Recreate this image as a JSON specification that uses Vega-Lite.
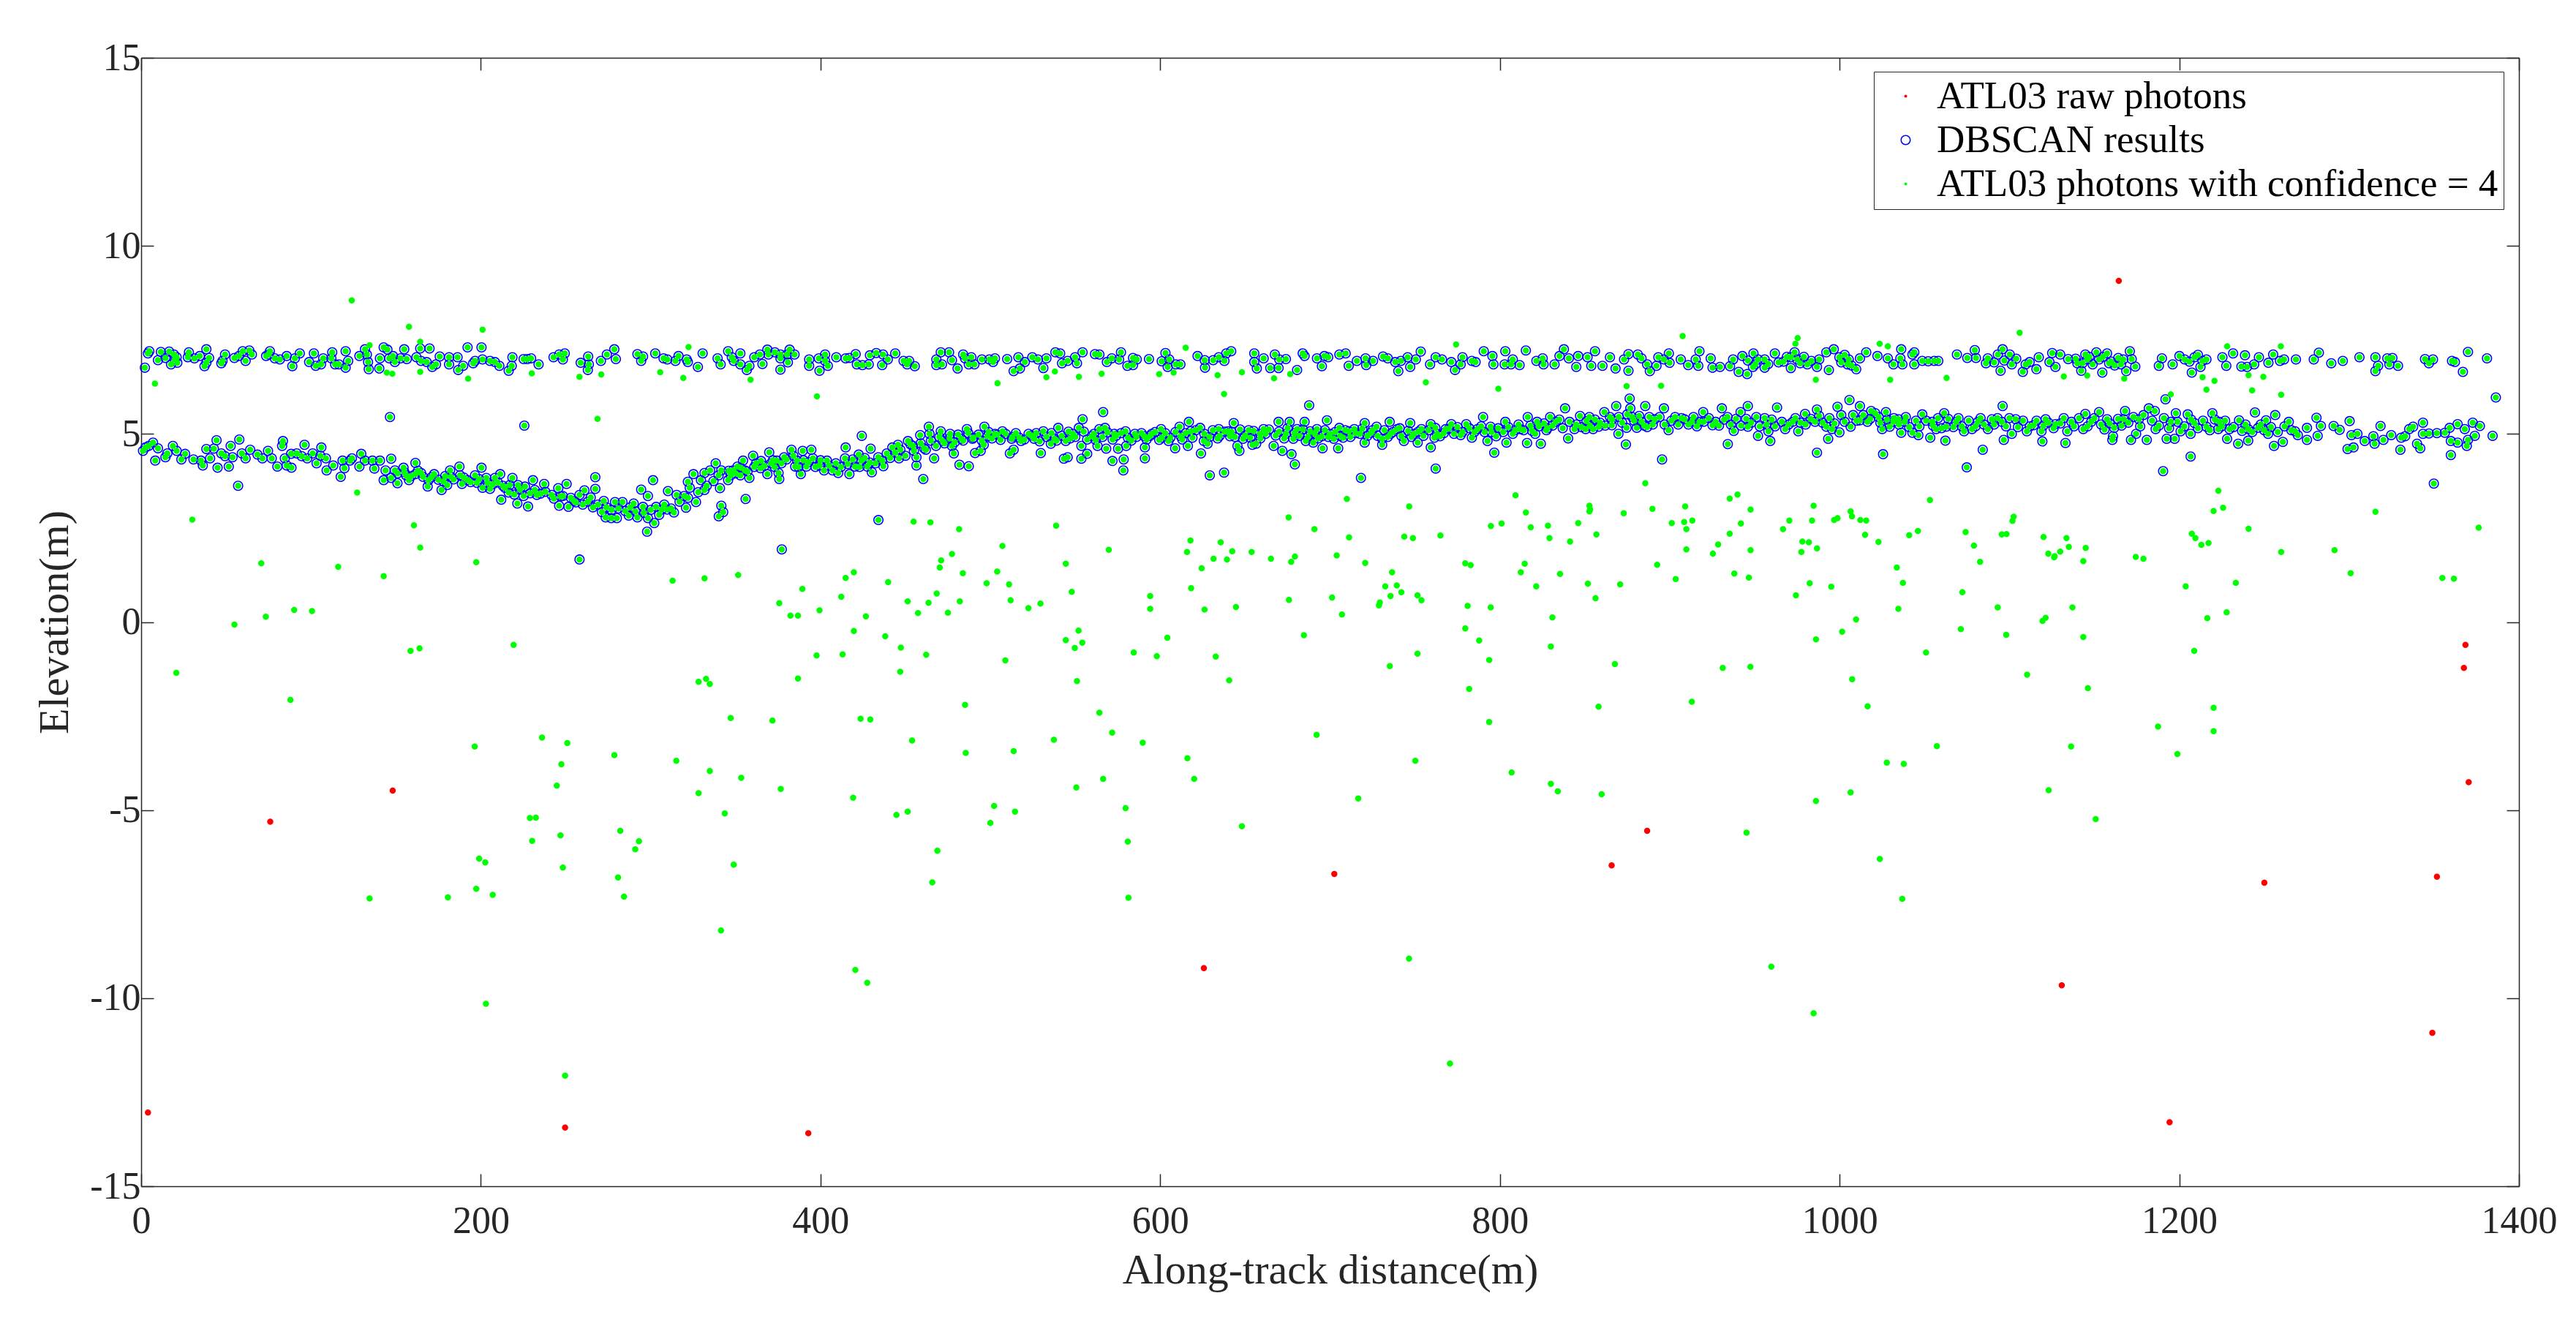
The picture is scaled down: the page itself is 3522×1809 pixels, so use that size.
{"$schema":"https://vega.github.io/schema/vega-lite/v6.json",
"width":3251,"height":1543,"autosize":"none",
"padding":{"left":193,"top":79,"right":78,"bottom":187},
"background":"white",
"config":{"font":"Liberation Serif","view":{"stroke":null},
"axis":{"grid":false,"domainColor":"#262626","domainWidth":1.5,"tickColor":"#262626","tickWidth":1.5,"tickSize":-17,"labelFont":"Liberation Serif","labelFontSize":52,"labelColor":"#262626","labelOverlap":false,"titleFont":"Liberation Serif","titleFontSize":58,"titleColor":"#262626","titleFontWeight":"normal"}},
"datasets":{
"raw":[{"d":4,"e":-13.04},{"d":76,"e":-5.31},{"d":148.1,"e":-4.48},{"d":249.6,"e":-13.44},{"d":392.8,"e":-13.59},{"d":625.7,"e":-9.2},{"d":702.5,"e":-6.7},{"d":865.8,"e":-6.47},{"d":886.7,"e":-5.55},{"d":1130.8,"e":-9.66},{"d":1164.4,"e":9.07},{"d":1194.3,"e":-13.3},{"d":1250.1,"e":-6.93},{"d":1349,"e":-10.92},{"d":1351.7,"e":-6.77},{"d":1367.6,"e":-1.22},{"d":1368.5,"e":-0.61},{"d":1370.4,"e":-4.26}],
"signal":[
{"d":2.2,"e":6.76},{"d":4,"e":7.14},{"d":4.8,"e":7.2},{"d":9.9,"e":6.96},{"d":11.6,"e":7.18},{"d":14.3,"e":7.02},{"d":16.5,"e":7.19},{"d":17.6,"e":6.85},{"d":19.3,"e":7.11},{"d":20.9,"e":7.04},{"d":21.3,"e":6.89},{"d":19.8,"e":6.98},{"d":28.1,"e":7.17},{"d":27.5,"e":7.04},{"d":31.4,"e":7.01},{"d":34.5,"e":7.07},{"d":38.4,"e":7.25},{"d":40,"e":7.02},{"d":38.4,"e":6.89},{"d":37.3,"e":6.8},{"d":47.9,"e":6.94},{"d":49.4,"e":7.11},{"d":47.2,"e":6.88},{"d":54.9,"e":7.02},{"d":57.6,"e":7.07},{"d":59.8,"e":7.2},{"d":61.5,"e":6.94},{"d":63.7,"e":7.22},{"d":65.2,"e":7.11},{"d":73.6,"e":7.07},{"d":75.8,"e":7.2},{"d":75.1,"e":7.11},{"d":78.7,"e":7.01},{"d":81.7,"e":6.98},{"d":85.7,"e":7.07},{"d":89,"e":6.8},{"d":90.5,"e":7.01},{"d":93.4,"e":7.14},{"d":101.7,"e":7.14},{"d":98.9,"e":6.91},{"d":102.8,"e":6.81},{"d":105.9,"e":6.85},{"d":107.2,"e":7.01},{"d":112.5,"e":7.17},{"d":112,"e":7.01},{"d":114.2,"e":6.85},{"d":116.4,"e":6.85},{"d":120.4,"e":7.2},{"d":121.9,"e":6.94},{"d":120.4,"e":6.76},{"d":128.5,"e":7.07},{"d":131.8,"e":7.25},{"d":132.9,"e":7.11},{"d":133.6,"e":6.91},{"d":134,"e":6.72},{"d":140.2,"e":6.74},{"d":140.6,"e":7.01},{"d":142.8,"e":7.3},{"d":146.1,"e":7.01},{"d":145,"e":7.24},{"d":148.3,"e":7.07},{"d":149.4,"e":6.91},{"d":152.7,"e":7.01},{"d":154.9,"e":7.25},{"d":156.4,"e":6.99},{"d":162.1,"e":7.04},{"d":164.3,"e":7.27},{"d":164.8,"e":6.94},{"d":168.1,"e":6.91},{"d":169.8,"e":7.27},{"d":171.4,"e":6.78},{"d":173.6,"e":6.85},{"d":175.8,"e":7.06},{"d":181.3,"e":7.04},{"d":181.3,"e":6.85},{"d":186.3,"e":7.04},{"d":186.7,"e":6.7},{"d":189.6,"e":6.81},{"d":192.2,"e":7.3},{"d":195.5,"e":6.88},{"d":196.6,"e":6.94},{"d":200.4,"e":7.3},{"d":201,"e":6.98},{"d":205.4,"e":6.94},{"d":208.3,"e":6.91},{"d":210.9,"e":6.81},{"d":216.4,"e":6.68},{"d":218.2,"e":6.81},{"d":218.6,"e":7.04},{"d":225.2,"e":6.99},{"d":227.4,"e":6.99},{"d":229.6,"e":7.01},{"d":234,"e":6.85},{"d":242.8,"e":7.04},{"d":246.1,"e":7.11},{"d":248.3,"e":6.98},{"d":249.4,"e":7.14},{"d":258.8,"e":6.89},{"d":263.2,"e":7.06},{"d":263.6,"e":6.85},{"d":263,"e":6.7},{"d":270.7,"e":6.94},{"d":274.2,"e":7.11},{"d":278.6,"e":7.25},{"d":279.5,"e":6.99},{"d":292.2,"e":7.12},{"d":295.5,"e":7.06},{"d":294.4,"e":6.94},{"d":302.7,"e":7.14},{"d":307.6,"e":7.01},{"d":309.8,"e":6.98},{"d":314.6,"e":6.94},{"d":316.4,"e":7.07},{"d":321.2,"e":6.98},{"d":321.9,"e":6.91},{"d":327.8,"e":6.78},{"d":330.6,"e":7.14},{"d":339.4,"e":7.01},{"d":341.2,"e":6.85},
{"d":345.6,"e":7.2},{"d":347.8,"e":7.04},{"d":348.9,"e":6.94},{"d":352.8,"e":7.14},{"d":352.8,"e":6.85},{"d":356.6,"e":6.7},{"d":358.1,"e":6.81},{"d":361,"e":7.04},{"d":364.3,"e":7.11},{"d":365.8,"e":6.86},{"d":368.7,"e":7.24},{"d":369.3,"e":7.11},{"d":373.1,"e":7.17},{"d":376.4,"e":7.11},{"d":376.4,"e":7.01},{"d":376.4,"e":6.71},{"d":380.3,"e":7.11},{"d":381.8,"e":7.24},{"d":380.8,"e":6.9},{"d":384.7,"e":7.11},{"d":393.3,"e":6.98},{"d":393.3,"e":6.81},{"d":399,"e":7.01},{"d":399.4,"e":6.68},{"d":402.7,"e":7.11},{"d":402.7,"e":6.94},{"d":404.3,"e":6.81},{"d":409.3,"e":7.04},{"d":414.8,"e":7.01},{"d":417,"e":7.02},{"d":420.7,"e":7.12},{"d":421.4,"e":6.85},{"d":424.7,"e":6.83},{"d":428.4,"e":6.85},{"d":429.1,"e":7.09},{"d":432.8,"e":7.15},{"d":436.3,"e":6.83},{"d":436.8,"e":7.11},{"d":439.6,"e":6.98},{"d":444,"e":7.14},{"d":448.9,"e":6.94},{"d":451,"e":6.85},{"d":452.2,"e":6.94},{"d":455.5,"e":6.8},{"d":468.2,"e":6.98},{"d":468.2,"e":6.83},{"d":470.8,"e":7.17},{"d":471.5,"e":6.85},{"d":475.7,"e":7.17},{"d":477.4,"e":6.96},{"d":480.7,"e":6.74},{"d":484,"e":7.11},{"d":485.1,"e":7.01},{"d":487.3,"e":6.85},{"d":488.8,"e":7.04},{"d":490.6,"e":6.85},{"d":495,"e":6.98},{"d":499.4,"e":6.98},{"d":501.6,"e":6.91},{"d":502.7,"e":7.01},{"d":509.9,"e":6.99},{"d":513.7,"e":6.67},{"d":516.5,"e":7.04},{"d":517.4,"e":6.74},{"d":520.3,"e":6.91},{"d":524.7,"e":7.04},{"d":528,"e":6.98},{"d":531.2,"e":6.75},{"d":533,"e":7.01},{"d":538.3,"e":7.17},{"d":541.1,"e":7.14},{"d":542.2,"e":6.88},{"d":545.5,"e":6.94},{"d":549.9,"e":7.04},{"d":551,"e":6.88},{"d":554.3,"e":7.17},{"d":561.6,"e":7.12},{"d":564.2,"e":7.11},{"d":568.6,"e":6.91},{"d":571.5,"e":7.01},{"d":575.8,"e":6.98},{"d":576.9,"e":7.17},{"d":580.7,"e":6.81},{"d":584,"e":7.02},{"d":584,"e":6.83},{"d":586.2,"e":6.98},{"d":593.4,"e":6.99},{"d":600.9,"e":6.93},{"d":603.1,"e":7.15},{"d":605.3,"e":6.98},{"d":604.4,"e":6.78},{"d":609.2,"e":6.85},{"d":611.9,"e":6.85},{"d":622,"e":7.07},{"d":626.4,"e":6.76},{"d":626.2,"e":6.96},{"d":631.2,"e":6.96},{"d":634.5,"e":7.04},{"d":637.8,"e":6.94},{"d":638.9,"e":7.14},{"d":641.8,"e":7.2},{"d":655.4,"e":7.14},{"d":655.4,"e":6.91},{"d":656.9,"e":6.74},{"d":660.9,"e":7.01},{"d":664.8,"e":6.75},{"d":667.5,"e":7.11},{"d":669.7,"e":6.75},{"d":670.1,"e":6.98},{"d":674,"e":6.99},{"d":680.6,"e":6.7},{"d":683.9,"e":7.14},{"d":685,"e":7.07},
{"d":692.3,"e":7.01},{"d":695.2,"e":6.8},{"d":696.7,"e":7.07},{"d":698.9,"e":7.04},{"d":705.5,"e":7.11},{"d":709.2,"e":7.14},{"d":711,"e":6.81},{"d":715.8,"e":6.94},{"d":720.9,"e":7.01},{"d":721.3,"e":6.83},{"d":725.3,"e":6.94},{"d":731.2,"e":7.06},{"d":734,"e":7.01},{"d":738.4,"e":6.91},{"d":740.2,"e":6.67},{"d":741.7,"e":6.94},{"d":745.7,"e":7.04},{"d":747.2,"e":6.78},{"d":750.5,"e":6.98},{"d":753.4,"e":7.19},{"d":758.9,"e":6.85},{"d":762.2,"e":7.04},{"d":765.9,"e":6.98},{"d":771.4,"e":6.91},{"d":773.6,"e":6.7},{"d":776.9,"e":6.85},{"d":778,"e":7.04},{"d":783.5,"e":6.94},{"d":785.7,"e":6.91},{"d":790.5,"e":7.2},{"d":795.6,"e":7.07},{"d":796.2,"e":6.85},{"d":803.2,"e":7.2},{"d":802.8,"e":6.85},{"d":807.6,"e":6.98},{"d":806.5,"e":6.85},{"d":811.6,"e":6.83},{"d":815.3,"e":7.22},{"d":821.5,"e":6.94},{"d":825.2,"e":7.01},{"d":825.7,"e":6.85},{"d":832.2,"e":6.85},{"d":835.1,"e":7.07},{"d":837.7,"e":7.25},{"d":840.6,"e":7.01},{"d":845,"e":6.78},{"d":846.1,"e":7.07},{"d":851.6,"e":7.04},{"d":853.8,"e":6.81},{"d":856,"e":7.2},{"d":860.4,"e":6.81},{"d":864.8,"e":7.04},{"d":868.1,"e":6.74},{"d":873.1,"e":6.98},{"d":875.7,"e":7.12},{"d":875.7,"e":6.68},{"d":881.2,"e":7.11},{"d":883.4,"e":7.01},{"d":886.7,"e":6.85},{"d":888.3,"e":6.67},{"d":893.3,"e":7.04},{"d":892.2,"e":6.81},{"d":896.6,"e":6.98},{"d":899.5,"e":7.14},{"d":899.9,"e":6.89},{"d":906.5,"e":6.98},{"d":910.9,"e":6.83},{"d":915.3,"e":6.98},{"d":916.8,"e":6.81},{"d":917.5,"e":7.2},{"d":924.1,"e":7.01},{"d":925.2,"e":6.76},{"d":929.6,"e":6.78},{"d":935.5,"e":6.8},{"d":937.3,"e":6.98},{"d":940.6,"e":6.65},{"d":942.8,"e":7.07},{"d":945.6,"e":6.59},{"d":950.4,"e":6.85},{"d":949.3,"e":7.14},{"d":955.9,"e":6.98},{"d":955.9,"e":6.76},{"d":961.9,"e":7.14},{"d":964.1,"e":6.9},{"d":971.3,"e":6.75},{"d":973.5,"e":7.17},{"d":971.3,"e":7.04},{"d":976.8,"e":6.88},{"d":983.4,"e":6.94},{"d":986.7,"e":6.78},{"d":992.2,"e":7.17},{"d":993.7,"e":6.7},{"d":996.6,"e":7.25},{"d":999.9,"e":7.04},{"d":1004.7,"e":6.85},{"d":1005.4,"e":6.98},{"d":1009.8,"e":6.72},{"d":1012,"e":7.01},{"d":1015.7,"e":7.17},{"d":1022.3,"e":7.07},{"d":1028.4,"e":7.01},{"d":1031.7,"e":6.85},
{"d":1036.3,"e":7.25},{"d":1035.8,"e":7.01},{"d":1037,"e":6.85},{"d":1042.9,"e":7.11},{"d":1044,"e":7.17},{"d":1044,"e":6.85},{"d":1048.7,"e":6.94},{"d":1052.2,"e":6.93},{"d":1055.7,"e":6.94},{"d":1058.1,"e":6.94},{"d":1069.1,"e":7.11},{"d":1075.2,"e":7.02},{"d":1079.6,"e":7.23},{"d":1080.3,"e":7.02},{"d":1086.2,"e":6.88},{"d":1087.3,"e":7.01},{"d":1093.2,"e":7.11},{"d":1094.8,"e":6.68},{"d":1096,"e":7.25},{"d":1100.2,"e":7.11},{"d":1101.4,"e":6.85},{"d":1107.9,"e":6.65},{"d":1109.6,"e":6.85},{"d":1111.9,"e":6.91},{"d":1115.9,"e":6.72},{"d":1117.3,"e":7.04},{"d":1125.2,"e":7.15},{"d":1123.6,"e":6.91},{"d":1127.1,"e":6.78},{"d":1129.9,"e":7.11},{"d":1134.6,"e":6.99},{"d":1140,"e":6.88},{"d":1142.3,"e":6.68},{"d":1144.7,"e":7.11},{"d":1145.8,"e":6.98},{"d":1151.2,"e":7.17},{"d":1152.8,"e":6.98},{"d":1154.7,"e":6.63},{"d":1157.5,"e":7.14},{"d":1158.7,"e":6.88},{"d":1164.1,"e":7.02},{"d":1165.7,"e":6.85},{"d":1168.8,"e":6.67},{"d":1170.9,"e":7.2},{"d":1172,"e":6.99},{"d":1174.1,"e":6.79},{"d":1188,"e":6.81},{"d":1189.8,"e":7.01},{"d":1196.1,"e":6.85},{"d":1200.1,"e":7.07},{"d":1203.2,"e":6.98},{"d":1207.4,"e":6.63},{"d":1209,"e":7.04},{"d":1212.5,"e":6.78},{"d":1213.7,"e":6.94},{"d":1225.4,"e":7.04},{"d":1227.7,"e":6.81},{"d":1231.7,"e":7.14},{"d":1236.6,"e":6.79},{"d":1238.7,"e":7.09},{"d":1239.9,"e":6.78},{"d":1244.1,"e":6.85},{"d":1246.9,"e":7.04},{"d":1252.5,"e":6.89},{"d":1255.3,"e":7.11},{"d":1259.3,"e":6.94},{"d":1261.7,"e":6.98},{"d":1268.7,"e":6.98},{"d":1279.2,"e":6.98},{"d":1282.2,"e":7.16},{"d":1289.5,"e":6.88},{"d":1296.3,"e":6.94},{"d":1306.1,"e":7.04},{"d":1315.5,"e":7.04},{"d":1317.1,"e":6.81},{"d":1315.5,"e":6.67},{"d":1322.5,"e":7.01},{"d":1323.7,"e":6.85},{"d":1325.5,"e":7.02},{"d":1328.8,"e":6.81},{"d":1344.7,"e":6.99},{"d":1347,"e":6.88},{"d":1349.4,"e":6.98},{"d":1360.6,"e":6.94},{"d":1362.3,"e":6.91},{"d":1367,"e":6.65},{"d":1370,"e":7.18},{"d":1381.2,"e":7.01},
{"d":1.1,"e":4.55},{"d":2.6,"e":4.64},{"d":4.4,"e":4.68},{"d":7,"e":4.77},{"d":8.3,"e":4.29},{"d":9.9,"e":4.62},{"d":14.3,"e":4.38},{"d":15.4,"e":4.48},{"d":18.7,"e":4.68},{"d":20.9,"e":4.55},{"d":23.7,"e":4.32},{"d":25.9,"e":4.47},{"d":30.8,"e":4.32},{"d":35.2,"e":4.29},{"d":36.3,"e":4.16},{"d":38.4,"e":4.6},{"d":40.6,"e":4.35},{"d":42.8,"e":4.61},{"d":44.4,"e":4.83},{"d":45,"e":4.1},{"d":47.2,"e":4.48},{"d":49.4,"e":4.41},{"d":51.6,"e":4.13},{"d":52.7,"e":4.68},{"d":53.8,"e":4.38},{"d":57.8,"e":4.85},{"d":59.3,"e":4.48},{"d":61.5,"e":4.35},{"d":64.2,"e":4.58},{"d":68.5,"e":4.45},{"d":71.4,"e":4.35},{"d":74.7,"e":4.55},{"d":76.9,"e":4.35},{"d":80.2,"e":4.13},{"d":83.5,"e":4.81},{"d":83,"e":4.68},{"d":84.6,"e":4.35},{"d":85.7,"e":4.16},{"d":88.5,"e":4.1},{"d":88.3,"e":4.47},{"d":91.6,"e":4.48},{"d":94.5,"e":4.41},{"d":96.2,"e":4.71},{"d":97.8,"e":4.35},{"d":101,"e":4.48},{"d":103.3,"e":4.22},{"d":106.1,"e":4.64},{"d":105.5,"e":4.42},{"d":109.2,"e":4.03},{"d":108.8,"e":4.35},{"d":113.1,"e":4.16},{"d":117.5,"e":3.86},{"d":118.6,"e":4.29},{"d":119.7,"e":4.09},{"d":123,"e":4.29},{"d":124.1,"e":4.35},{"d":128.5,"e":4.13},{"d":129.6,"e":4.47},{"d":131.8,"e":4.29},{"d":137.3,"e":4.08},{"d":136.2,"e":4.29},{"d":140.6,"e":4.29},{"d":142.8,"e":3.77},{"d":143.9,"e":4.03},{"d":147.2,"e":4.34},{"d":147.2,"e":3.83},{"d":149.4,"e":4.03},{"d":150.9,"e":3.69},{"d":154.5,"e":4.1},{"d":156,"e":3.9},{"d":157.7,"e":3.77},{"d":161.5,"e":4.23},{"d":161.5,"e":3.93},{"d":164.8,"e":3.96},{"d":169.2,"e":3.77},{"d":168.7,"e":3.6},{"d":172.5,"e":3.93},{"d":176.9,"e":3.51},{"d":178,"e":3.74},{"d":180.2,"e":3.64},{"d":181.9,"e":4.03},{"d":182.4,"e":3.86},{"d":187.4,"e":4.13},{"d":187.8,"e":3.9},{"d":188.9,"e":3.67},{"d":192.2,"e":3.77},{"d":196.6,"e":3.9},{"d":197.7,"e":3.7},{"d":200.4,"e":4.1},{"d":201,"e":3.57},{"d":203.2,"e":3.83},{"d":205.4,"e":3.54},{"d":208.3,"e":3.83},{"d":211.4,"e":3.93},{"d":212,"e":3.25},{"d":214.2,"e":3.57},{"d":216.4,"e":3.44},{"d":218.6,"e":3.83},{"d":219.7,"e":3.39},{"d":221.5,"e":3.15},{"d":221.9,"e":3.64},{"d":225.2,"e":3.35},{"d":227.8,"e":3.07},{"d":230.7,"e":3.77},{"d":231.8,"e":3.51},{"d":235.1,"e":3.41},{"d":237.3,"e":3.67},{"d":241.7,"e":3.38},{"d":246.1,"e":3.09},{"d":245.6,"e":3.56},{"d":248.3,"e":3.35},{"d":250.5,"e":3.67},{"d":251.6,"e":3.06},{"d":254.9,"e":3.22},{"d":258.1,"e":3.38},{"d":261,"e":3.5},{"d":264.7,"e":3.31},{"d":267.4,"e":3.85},{"d":267.4,"e":3.54},{"d":271.3,"e":2.92},{"d":272.4,"e":3.22},{"d":273.5,"e":2.78},{"d":276.8,"e":2.76},{"d":279,"e":3.19},{"d":280.1,"e":2.76},{"d":283.4,"e":3.19},{"d":287.1,"e":2.83},{"d":290,"e":3.15},{"d":292.2,"e":2.78},{"d":294.4,"e":3.52},{"d":295.5,"e":3.06},{"d":298.4,"e":2.76},{"d":298.4,"e":3.35},{"d":297.9,"e":2.4},{"d":301.4,"e":3.77},{"d":302.1,"e":2.63},{"d":303.2,"e":3.06},{"d":306.5,"e":2.99},{"d":309.8,"e":2.99},{"d":310.2,"e":3.48},{"d":313.7,"e":2.91},{"d":315.3,"e":3.38},{"d":320.8,"e":3.04},{"d":319.7,"e":3.35},{"d":321.9,"e":3.73},{"d":323,"e":3.57},{"d":325.2,"e":3.93},{"d":326.7,"e":3.19},{"d":329.6,"e":3.77},{"d":331.7,"e":3.51},{"d":331.7,"e":3.96},{"d":335,"e":4.03},{"d":338.3,"e":4.22},{"d":340.8,"e":3.56},{"d":341.6,"e":4.03},{"d":341.6,"e":3.09},{"d":340.1,"e":2.81},{"d":342.7,"e":2.92},
{"d":146.5,"e":5.45},{"d":225.6,"e":5.22},{"d":57.1,"e":3.62},{"d":258.1,"e":1.66},{"d":355.9,"e":3.27},{"d":434.1,"e":2.71},{"d":377.2,"e":1.93},{"d":424.3,"e":4.95},{"d":566.4,"e":5.58},{"d":687.7,"e":5.76},{"d":629.2,"e":3.9},{"d":637.6,"e":3.97},{"d":460.5,"e":3.8},
{"d":345.6,"e":3.77},{"d":347.1,"e":3.9},{"d":348.5,"e":4.03},{"d":351.1,"e":4.13},{"d":352.8,"e":3.9},{"d":354.4,"e":4.29},{"d":355.5,"e":4.03},{"d":358.1,"e":3.83},{"d":360.3,"e":4.42},{"d":362.1,"e":4.22},{"d":364.7,"e":4.09},{"d":368.7,"e":3.93},{"d":369.8,"e":4.51},{"d":370.9,"e":4.22},{"d":375.3,"e":3.96},{"d":375.7,"e":3.8},{"d":374.2,"e":4.29},{"d":378.6,"e":4.38},{"d":382.9,"e":4.58},{"d":385.1,"e":4.13},{"d":386.2,"e":4.29},{"d":388.4,"e":3.93},{"d":389.5,"e":4.55},{"d":391.7,"e":4.13},{"d":394.6,"e":4.58},{"d":395.5,"e":4.35},{"d":399.4,"e":4.16},{"d":402.1,"e":4.03},{"d":403.8,"e":4.29},{"d":407.1,"e":4.03},{"d":410.4,"e":3.96},{"d":414.8,"e":4.64},{"d":414.4,"e":4.35},{"d":417,"e":3.93},{"d":420.3,"e":4.13},{"d":422.5,"e":4.45},{"d":424,"e":4.29},{"d":427.5,"e":4.13},{"d":429.5,"e":4.61},{"d":430.2,"e":3.98},{"d":432.4,"e":4.22},{"d":436.3,"e":4.29},{"d":439,"e":4.48},{"d":442.3,"e":4.64},{"d":445.6,"e":4.71},{"d":446.2,"e":4.35},{"d":451.5,"e":4.81},{"d":454.4,"e":4.68},{"d":456.5,"e":4.38},{"d":458.7,"e":4.97},{"d":456.5,"e":4.16},{"d":462,"e":4.58},{"d":463.8,"e":5.19},{"d":464.2,"e":5},{"d":466.9,"e":4.35},{"d":470.8,"e":5.07},{"d":471.9,"e":4.81},{"d":476.3,"e":5},{"d":478.5,"e":4.48},{"d":477.4,"e":4.68},{"d":481.8,"e":4.18},{"d":487.3,"e":4.14},{"d":482.9,"e":4.87},{"d":486.2,"e":5.13},{"d":489.5,"e":4.87},{"d":491,"e":4.49},{"d":494.3,"e":4.55},{"d":496.5,"e":5.19},{"d":496.1,"e":4.71},{"d":498.3,"e":4.94},{"d":502.7,"e":5},{"d":507.1,"e":5.07},{"d":511.5,"e":4.48},{"d":513.7,"e":4.58},{"d":512.6,"e":4.87},{"d":518.1,"e":4.81},{"d":522.5,"e":5},{"d":525.8,"e":4.87},{"d":529.7,"e":4.49},{"d":531.2,"e":5.07},{"d":535.6,"e":4.74},{"d":540,"e":5.16},{"d":537.8,"e":4.87},{"d":543.3,"e":4.34},{"d":545.5,"e":4.38},{"d":544.4,"e":4.81},{"d":548.8,"e":5},{"d":552.1,"e":5.16},{"d":554.3,"e":5.39},{"d":553.6,"e":4.68},{"d":553.6,"e":4.34},{"d":557,"e":4.47},{"d":559.8,"e":4.94},{"d":563.1,"e":4.68},{"d":564.2,"e":5.13},{"d":567.5,"e":5.16},{"d":568.2,"e":4.61},{"d":571.9,"e":4.28},{"d":573,"e":5},{"d":575.2,"e":4.61},{"d":578.5,"e":4.32},{"d":578.3,"e":4.03},{"d":579.6,"e":5.07},{"d":580,"e":4.68},{"d":585.1,"e":5},{"d":590.6,"e":4.94},{"d":591,"e":4.35},{"d":591,"e":4.64},{"d":595,"e":5},{"d":599.4,"e":4.84},{"d":600.5,"e":5.13},{"d":604.9,"e":4.81},{"d":608.8,"e":4.62},{"d":611.4,"e":5.19},{"d":612.1,"e":4.94},{"d":616.3,"e":4.68},{"d":616.9,"e":5.32},{"d":618,"e":5.07},{"d":624,"e":4.48},{"d":625.7,"e":4.81},{"d":623.5,"e":5.16},{"d":627.9,"e":4.74},{"d":633.8,"e":4.88},{"d":634.5,"e":5.13},{"d":641.1,"e":4.94},{"d":643.3,"e":5.29},{"d":640,"e":5.07},{"d":645.5,"e":4.68},{"d":646.6,"e":4.55},{"d":648.8,"e":4.87},{"d":652.1,"e":5.1},{"d":654.3,"e":4.71},{"d":656.5,"e":4.74},{"d":658.7,"e":5},{"d":660.9,"e":5.13},{"d":666.8,"e":4.68},{"d":669.7,"e":5.32},{"d":671.9,"e":4.55},{"d":674,"e":5},{"d":676.2,"e":5.32},{"d":677.3,"e":4.46},{"d":679.3,"e":4.19},{"d":678.4,"e":4.87},{"d":680.6,"e":5.13},{"d":685.7,"e":4.81},{"d":685,"e":5.32},{"d":688.3,"e":5.07},
{"d":690.1,"e":4.77},{"d":692.3,"e":5.13},{"d":695.6,"e":4.62},{"d":695.2,"e":4.94},{"d":698.2,"e":5.36},{"d":700,"e":5},{"d":702.2,"e":4.87},{"d":704.8,"e":4.62},{"d":705.5,"e":5.16},{"d":707.7,"e":4.9},{"d":711,"e":5.07},{"d":714.3,"e":5.13},{"d":717.6,"e":5},{"d":720.4,"e":5.29},{"d":720.4,"e":4.77},{"d":724.2,"e":5.03},{"d":727.4,"e":5.19},{"d":730.7,"e":4.71},{"d":730.7,"e":4.87},{"d":735.1,"e":5.32},{"d":735.6,"e":5},{"d":739.5,"e":5.13},{"d":743.5,"e":4.81},{"d":747.2,"e":5.29},{"d":749.4,"e":5},{"d":751.6,"e":4.77},{"d":753.8,"e":5.13},{"d":759.3,"e":4.64},{"d":761.5,"e":4.9},{"d":759.3,"e":5.26},{"d":764.8,"e":4.94},{"d":768.1,"e":5.13},{"d":771.4,"e":5.26},{"d":776.9,"e":4.97},{"d":780.2,"e":5.26},{"d":783.5,"e":4.9},{"d":786.8,"e":5.13},{"d":790.1,"e":5.45},{"d":792.7,"e":4.81},{"d":796.7,"e":4.5},{"d":797.8,"e":4.94},{"d":794.5,"e":5.19},{"d":803.9,"e":4.77},{"d":803.2,"e":5.32},{"d":807.6,"e":5},{"d":812,"e":5.13},{"d":816.4,"e":5.45},{"d":816,"e":4.76},{"d":820.8,"e":5},{"d":824.1,"e":4.74},{"d":821.9,"e":5.32},{"d":827.4,"e":5.1},{"d":829.6,"e":5.45},{"d":832.9,"e":5.32},{"d":838.4,"e":5.68},{"d":840.2,"e":4.88},{"d":843.9,"e":5.13},{"d":847.2,"e":5.48},{"d":850.5,"e":5.13},{"d":852.7,"e":5.45},{"d":854.9,"e":5.13},{"d":858.2,"e":5.19},{"d":861.5,"e":5.58},{"d":864.8,"e":5.45},{"d":868.5,"e":5.74},{"d":865.9,"e":5.23},{"d":869.8,"e":5},{"d":874.6,"e":5.16},{"d":874.2,"e":4.72},{"d":876.8,"e":5.68},{"d":876.4,"e":5.94},{"d":880.6,"e":5.16},{"d":877.9,"e":5.45},{"d":885.6,"e":5.74},{"d":886.7,"e":5.18},{"d":883.4,"e":5.32},{"d":891.1,"e":5.39},{"d":896.6,"e":5.68},{"d":899.3,"e":5.1},{"d":903.2,"e":5.45},{"d":908.7,"e":5.39},{"d":913.1,"e":5.32},{"d":919.7,"e":5.58},{"d":925.2,"e":5.23},{"d":917.5,"e":5.32},{"d":930.7,"e":5.68},{"d":934,"e":5.45},{"d":937.7,"e":5.08},{"d":934.2,"e":4.73},{"d":941.7,"e":5.58},{"d":946,"e":5.74},{"d":946,"e":5.19},{"d":952,"e":4.95},{"d":955.9,"e":5.42},{"d":959.2,"e":4.81},{"d":958.1,"e":5.07},{"d":963.2,"e":5.7},{"d":968,"e":5.13},{"d":975.7,"e":5.07},{"d":972.4,"e":5.32},{"d":979.7,"e":5.53},{"d":986.7,"e":5.65},{"d":985.6,"e":5.32},{"d":986.7,"e":4.5},{"d":993.3,"e":4.87},{"d":992.2,"e":5.19},{"d":995.5,"e":5.13},{"d":998.8,"e":5.72},{"d":999.9,"e":5.04},{"d":1005.8,"e":5.9},{"d":1006.5,"e":5.19},{"d":1012,"e":5.74},{"d":1012,"e":5.36},{"d":1016.4,"e":5.32},{"d":1018.6,"e":5.61},{"d":1025.1,"e":5.13},{"d":1027.3,"e":5.58},{"d":1029.5,"e":5.19},{"d":1023,"e":5.45},{"d":1031.7,"e":5.32},{"d":718.2,"e":3.83},{"d":762.2,"e":4.08},{"d":1025.6,"e":4.46},{"d":895.5,"e":4.32},
{"d":1034.7,"e":5.39},{"d":1036.3,"e":5.03},{"d":1038.2,"e":5.32},{"d":1042.9,"e":5.03},{"d":1046.4,"e":4.97},{"d":1048.7,"e":5.52},{"d":1053.4,"e":4.9},{"d":1054.6,"e":5.32},{"d":1056.9,"e":5.13},{"d":1061.6,"e":5.55},{"d":1062.3,"e":4.82},{"d":1062.8,"e":5.19},{"d":1068.6,"e":5.32},{"d":1073.3,"e":5.07},{"d":1078,"e":5.13},{"d":1081.5,"e":5.32},{"d":1087.3,"e":5.13},{"d":1089.7,"e":5.39},{"d":1095.5,"e":5.32},{"d":1096.7,"e":4.84},{"d":1101.4,"e":5},{"d":1103.7,"e":5.39},{"d":1110.3,"e":5.07},{"d":1114.2,"e":5.23},{"d":1118.9,"e":5.07},{"d":1119.4,"e":4.8},{"d":1121.3,"e":5.39},{"d":1127.1,"e":5.26},{"d":1133,"e":4.76},{"d":1134.1,"e":5.07},{"d":1136.5,"e":5.32},{"d":1143.5,"e":5.13},{"d":1144.7,"e":5.53},{"d":1148.2,"e":5.32},{"d":1152.8,"e":5.58},{"d":1157.5,"e":5.39},{"d":1161,"e":4.94},{"d":1160.6,"e":4.84},{"d":1161.7,"e":5.16},{"d":1168.1,"e":5.61},{"d":1167.3,"e":5.39},{"d":1171.6,"e":4.84},{"d":1174.6,"e":5},{"d":1176.2,"e":5.39},{"d":1180.9,"e":4.84},{"d":1182.1,"e":5.68},{"d":1185.6,"e":5.61},{"d":1186.1,"e":5.13},{"d":1192.6,"e":4.87},{"d":1197.3,"e":4.87},{"d":1198,"e":5.55},{"d":1195,"e":5.32},{"d":1200.8,"e":5.07},{"d":1205,"e":5.52},{"d":1206.7,"e":5},{"d":1209,"e":5.29},{"d":1216,"e":5.19},{"d":1219.5,"e":5.55},{"d":1223,"e":5.13},{"d":1223.5,"e":5.32},{"d":1228.2,"e":4.87},{"d":1229.6,"e":5.13},{"d":1234.7,"e":4.74},{"d":1235.2,"e":5.36},{"d":1240.6,"e":4.82},{"d":1240.6,"e":5.13},{"d":1244.6,"e":5.57},{"d":1246.4,"e":5.16},{"d":1251.1,"e":5.36},{"d":1252.3,"e":5},{"d":1256.5,"e":5.5},{"d":1255.8,"e":4.68},{"d":1261,"e":4.79},{"d":1264.5,"e":5.32},{"d":1268.2,"e":5.07},{"d":1269.8,"e":4.97},{"d":1275.2,"e":5.16},{"d":1275.2,"e":4.84},{"d":1280.8,"e":5.43},{"d":1281.5,"e":4.95},{"d":1283.4,"e":5.21},{"d":1290.9,"e":5.21},{"d":1294.4,"e":5.11},{"d":1300.3,"e":5.34},{"d":1301.4,"e":4.97},{"d":1299.1,"e":4.6},{"d":1302.6,"e":4.64},{"d":1304.9,"e":5},{"d":1309.2,"e":4.81},{"d":1314.3,"e":4.94},{"d":1315,"e":4.74},{"d":1318.5,"e":5.21},{"d":1320.2,"e":4.84},{"d":1324.8,"e":4.97},{"d":1330.2,"e":4.58},{"d":1330.7,"e":4.9},{"d":1335.4,"e":5.13},{"d":1333,"e":4.94},{"d":1337.7,"e":5.19},{"d":1340,"e":4.74},{"d":1341.9,"e":4.62},{"d":1343.5,"e":5.3},{"d":1343.5,"e":5},{"d":1347,"e":5.01},{"d":1351.7,"e":5.02},{"d":1356.4,"e":5.03},{"d":1359.9,"e":4.81},{"d":1359.2,"e":5.16},{"d":1363.9,"e":4.77},{"d":1363.9,"e":5.26},{"d":1368.1,"e":5.13},{"d":1369.3,"e":4.68},{"d":1370,"e":4.84},{"d":1372.8,"e":5.3},{"d":1374,"e":4.95},{"d":1377,"e":5.21},{"d":1384.5,"e":4.95},{"d":1096,"e":5.74},{"d":1084.3,"e":4.58},{"d":1074.9,"e":4.11},{"d":1191.9,"e":5.92},{"d":1206.7,"e":4.4},{"d":1190.5,"e":4.01},{"d":1349.9,"e":3.68},{"d":1359.9,"e":4.44},{"d":1386.4,"e":5.97},
{"d":151,"e":3.95},{"d":155,"e":3.98},{"d":159,"e":3.88},{"d":163,"e":4.02},{"d":166,"e":3.86},{"d":171,"e":3.85},{"d":175,"e":3.78},{"d":179,"e":3.88},{"d":184,"e":3.79},{"d":190,"e":3.84},{"d":194,"e":3.72},{"d":199,"e":3.8},{"d":204,"e":3.7},{"d":207,"e":3.66},{"d":210,"e":3.71},{"d":213,"e":3.62},{"d":217,"e":3.64},{"d":223,"e":3.52},{"d":226,"e":3.6},{"d":229,"e":3.42},{"d":233,"e":3.38},{"d":238,"e":3.46},{"d":243,"e":3.28},{"d":247,"e":3.34},{"d":253,"e":3.3},{"d":256,"e":3.18},{"d":260,"e":3.12},{"d":263,"e":3.2},{"d":266,"e":3.05},{"d":269,"e":3.12},{"d":274,"e":3.05},{"d":277,"e":2.98},{"d":281,"e":3.02},{"d":285,"e":2.95},{"d":288,"e":3.05},{"d":291,"e":2.94},{"d":296,"e":2.9},{"d":300,"e":2.98},{"d":305,"e":2.85},{"d":308,"e":3.12},{"d":312,"e":3.02},{"d":317,"e":3.2},{"d":322,"e":3.3},{"d":328,"e":3.45},{"d":333,"e":3.62},{"d":337,"e":3.75},{"d":340,"e":3.9},
{"d":346,"e":4.02},{"d":350,"e":3.95},{"d":353,"e":4.1},{"d":357,"e":4},{"d":361,"e":4.12},{"d":365,"e":4.28},{"d":367,"e":4.15},{"d":372,"e":4.3},{"d":373,"e":4.12},{"d":377,"e":4.22},{"d":380,"e":4.32},{"d":384,"e":4.42},{"d":387,"e":4.12},{"d":390,"e":4.3},{"d":393,"e":4.25},{"d":397,"e":4.12},{"d":400,"e":4.3},{"d":405,"e":4.16},{"d":409,"e":4.22},{"d":412,"e":4.12},{"d":416,"e":4.2},{"d":419,"e":4.32},{"d":423,"e":4.12},{"d":426,"e":4.36},{"d":429,"e":4.24},{"d":434,"e":4.38},{"d":437,"e":4.14},{"d":441,"e":4.36},{"d":444,"e":4.5},{"d":447,"e":4.58},{"d":450,"e":4.42},{"d":453,"e":4.72},{"d":455,"e":4.55},{"d":459,"e":4.75},{"d":461,"e":4.62},{"d":465,"e":4.82},{"d":468,"e":4.68},{"d":470,"e":4.92},{"d":473,"e":4.75},{"d":476,"e":4.88},{"d":479,"e":4.78},{"d":481,"e":4.98},{"d":484,"e":4.82},{"d":487,"e":5.02},{"d":490,"e":4.9},{"d":493,"e":4.98},{"d":495,"e":4.82},{"d":499,"e":5.05},{"d":501,"e":4.88},{"d":504,"e":4.98},{"d":506,"e":4.84},{"d":509,"e":5},{"d":513,"e":4.92},{"d":515,"e":5.02},{"d":517,"e":4.9},{"d":520,"e":4.85},{"d":524,"e":4.96},{"d":527,"e":5.02},{"d":529,"e":4.8},{"d":533,"e":4.92},{"d":536,"e":5.02},{"d":539,"e":4.82},{"d":542,"e":4.95},{"d":546,"e":5.06},{"d":547,"e":4.88},{"d":550,"e":4.92},{"d":555,"e":5.06},{"d":557,"e":4.85},{"d":561,"e":5},{"d":562,"e":4.84},{"d":566,"e":4.92},{"d":569,"e":5.04},{"d":572,"e":4.85},{"d":574,"e":4.95},{"d":577,"e":5.02},{"d":581,"e":4.9},{"d":583,"e":4.82},{"d":586,"e":4.92},{"d":589,"e":5.02},{"d":592,"e":4.85},{"d":594,"e":4.95},{"d":597,"e":5.05},{"d":601,"e":4.9},{"d":603,"e":5.02},{"d":606,"e":4.9},{"d":609,"e":5.05},{"d":613,"e":4.85},{"d":615,"e":5.02},{"d":619,"e":4.9},{"d":621,"e":5.1},{"d":626,"e":5},{"d":629,"e":4.92},{"d":631,"e":5.1},{"d":635,"e":4.95},{"d":638,"e":5.06},{"d":642,"e":5.05},{"d":644,"e":4.92},{"d":647,"e":5.12},{"d":650,"e":4.96},{"d":653,"e":4.9},{"d":655,"e":5.08},{"d":659,"e":4.88},{"d":662,"e":5},{"d":664,"e":5.12},{"d":668,"e":4.96},{"d":670,"e":5.06},{"d":673,"e":4.88},{"d":675,"e":5.15},{"d":679,"e":5.02},{"d":682,"e":4.95},{"d":684,"e":5.12},{"d":687,"e":4.92},{"d":691,"e":5},{"d":693,"e":4.88},{"d":697,"e":5.1},{"d":699,"e":4.92},{"d":703,"e":5.05},{"d":706,"e":4.95},{"d":709,"e":5.1},{"d":712,"e":4.92},{"d":715,"e":5.02},{"d":719,"e":5.14},{"d":722,"e":4.95},{"d":725,"e":5.1},{"d":728,"e":4.95},{"d":732,"e":5.1},{"d":734,"e":4.92},{"d":737,"e":5.05},{"d":741,"e":5.15},{"d":742,"e":4.95},{"d":746,"e":5.08},{"d":748,"e":4.92},{"d":752,"e":5.06},{"d":755,"e":4.95},{"d":758,"e":5.1},{"d":762,"e":5.16},{"d":763,"e":5},{"d":767,"e":5.02},{"d":770,"e":5.14},{"d":773,"e":5},{"d":775,"e":5.18},{"d":778,"e":5.05},{"d":782,"e":5.15},{"d":785,"e":5.05},{"d":789,"e":5.2},{"d":791,"e":5.05},{"d":795,"e":5.05},{"d":799,"e":5.15},{"d":802,"e":5.05},{"d":805,"e":5.18},{"d":809,"e":5.1},{"d":811,"e":5.25},{"d":814,"e":5.1},{"d":818,"e":5.22},{"d":819,"e":5.08},{"d":823,"e":5.2},{"d":826,"e":5.28},{"d":828,"e":5.15},{"d":831,"e":5.22},{"d":835,"e":5.38},{"d":837,"e":5.15},{"d":841,"e":5.32},{"d":845,"e":5.25},{"d":848,"e":5.18},{"d":851,"e":5.34},{"d":853,"e":5.22},{"d":856,"e":5.38},{"d":859,"e":5.3},{"d":862,"e":5.22},{"d":866,"e":5.38},{"d":870,"e":5.45},{"d":872,"e":5.3},{"d":875,"e":5.52},{"d":879,"e":5.35},{"d":882,"e":5.48},{"d":885,"e":5.22},{"d":888,"e":5.45},{"d":890,"e":5.25},{"d":894,"e":5.45},{"d":897,"e":5.25},{"d":901,"e":5.35},{"d":905,"e":5.25},{"d":907,"e":5.42},{"d":911,"e":5.25},{"d":914,"e":5.45},{"d":916,"e":5.2},{"d":920,"e":5.32},{"d":923,"e":5.42},{"d":927,"e":5.32},{"d":929,"e":5.22},{"d":932,"e":5.38},{"d":936,"e":5.25},{"d":939,"e":5.4},{"d":942,"e":5.22},{"d":945,"e":5.4},{"d":948,"e":5.3},{"d":951,"e":5.45},{"d":953,"e":5.2},{"d":957,"e":5.25},{"d":960,"e":5.38},{"d":962,"e":5.2},{"d":966,"e":5.32},{"d":970,"e":5.25},{"d":974,"e":5.42},{"d":977,"e":5.3},{"d":980,"e":5.25},{"d":983,"e":5.4},{"d":988,"e":5.48},{"d":990,"e":5.3},{"d":994,"e":5.42},{"d":997,"e":5.28},{"d":1001,"e":5.5},{"d":1003,"e":5.32},{"d":1008,"e":5.5},{"d":1010,"e":5.35},{"d":1014,"e":5.5},{"d":1018,"e":5.4},{"d":1021,"e":5.55},{"d":1024,"e":5.3},{"d":1028,"e":5.38},{"d":1032,"e":5.42},{"d":1035,"e":5.25},{"d":1039,"e":5.45},{"d":1041,"e":5.18},{"d":1045,"e":5.35},{"d":1047,"e":5.2},{"d":1051,"e":5.35},{"d":1055,"e":5.22},{"d":1058,"e":5.42},{"d":1060,"e":5.15},{"d":1064,"e":5.4},{"d":1067,"e":5.18},{"d":1070,"e":5.42},{"d":1072,"e":5.2},{"d":1076,"e":5.35},{"d":1080,"e":5.2},{"d":1083,"e":5.42},{"d":1085,"e":5.25},{"d":1091,"e":5.25},{"d":1093,"e":5.42},{"d":1098,"e":5.2},{"d":1100,"e":5.42},{"d":1105,"e":5.18},{"d":1108,"e":5.35},{"d":1112,"e":5.2},{"d":1116,"e":5.35},{"d":1120,"e":5.22},{"d":1123,"e":5.3},{"d":1126,"e":5.15},{"d":1130,"e":5.28},{"d":1132,"e":5.42},{"d":1138,"e":5.2},{"d":1141,"e":5.42},{"d":1146,"e":5.2},{"d":1150,"e":5.42},{"d":1154,"e":5.25},{"d":1156,"e":5.12},{"d":1159,"e":5.28},{"d":1164,"e":5.4},{"d":1166,"e":5.22},{"d":1170,"e":5.3},{"d":1173,"e":5.45},{"d":1177,"e":5.2},{"d":1179,"e":5.5},{"d":1184,"e":5.35},{"d":1188,"e":5.22},{"d":1191,"e":5.42},{"d":1194,"e":5.15},{"d":1199,"e":5.32},{"d":1203,"e":5.2},{"d":1207,"e":5.38},{"d":1211,"e":5.15},{"d":1214,"e":5.35},{"d":1218,"e":5.1},{"d":1221,"e":5.38},{"d":1225,"e":5.2},{"d":1227,"e":5.35},{"d":1232,"e":5.18},{"d":1237,"e":5.08},{"d":1239,"e":5.25},{"d":1243,"e":5.05},{"d":1248,"e":5.25},{"d":1250,"e":5.1},{"d":1254,"e":5.18},{"d":1258,"e":5.05},{"d":1262,"e":5.2},{"d":1266,"e":5.1},
{"d":946,"e":6.95},{"d":949,"e":6.78},{"d":952,"e":6.98},{"d":958,"e":6.86},{"d":967,"e":6.92},{"d":969,"e":7.05},{"d":975,"e":6.98},{"d":979,"e":7.05},{"d":981,"e":6.85},{"d":988,"e":6.98},{"d":1001,"e":6.9},{"d":1003,"e":7.1},{"d":1007,"e":6.82},{"d":1139,"e":7},{"d":1143,"e":6.88},{"d":1147,"e":7.05},{"d":1149,"e":6.85},{"d":1155,"e":7.05},{"d":1160,"e":6.92},{"d":1162,"e":6.82},{"d":1167,"e":6.98},{"d":1091,"e":6.9},{"d":1097,"e":6.95},{"d":1104,"e":7},{"d":1206,"e":6.92},{"d":1211,"e":7.1},{"d":1216,"e":6.98}],
"noise":[
{"d":8.1,"e":6.34},{"d":134.5,"e":7.36},{"d":144.6,"e":6.63},{"d":147.9,"e":6.6},{"d":157.7,"e":7.85},{"d":164.3,"e":7.45},{"d":164.3,"e":6.65},{"d":192.5,"e":6.47},{"d":201,"e":7.77},{"d":230,"e":6.61},{"d":258.1,"e":6.52},{"d":270.9,"e":6.58},{"d":305.6,"e":6.64},{"d":319.2,"e":6.49},{"d":322.3,"e":7.31},{"d":268.7,"e":5.4},{"d":124,"e":8.55},
{"d":30.1,"e":2.72},{"d":127.2,"e":3.44},{"d":160.6,"e":2.57},{"d":164.3,"e":1.98},{"d":70.7,"e":1.56},{"d":116,"e":1.47},{"d":142.8,"e":1.22},{"d":197.3,"e":1.59},{"d":312.9,"e":1.1},{"d":331.7,"e":1.16},{"d":351.5,"e":1.25},{"d":375.7,"e":0.5},{"d":389.3,"e":0.88},{"d":382.3,"e":0.17},{"d":386.7,"e":0.17},{"d":399.4,"e":0.31},{"d":412.2,"e":0.67},{"d":414.8,"e":1.17},{"d":419.6,"e":1.32},{"d":439.8,"e":1.06},{"d":426.7,"e":0.15},{"d":419.6,"e":-0.24},{"d":438.1,"e":-0.38},{"d":447.3,"e":-0.68},{"d":451.3,"e":0.55},{"d":463.6,"e":0.51},{"d":457.4,"e":0.24},{"d":475,"e":0.25},{"d":468.4,"e":0.76},{"d":470.2,"e":1.45},{"d":471,"e":1.64},{"d":482,"e":0.55},{"d":483.8,"e":1.3},{"d":497.8,"e":1.03},{"d":504,"e":1.34},{"d":511,"e":1},{"d":511.9,"e":0.58},{"d":522.4,"e":0.37},{"d":529.5,"e":0.49},{"d":544.4,"e":1.55},{"d":547.9,"e":0.8},{"d":551.9,"e":-0.23},{"d":544.4,"e":-0.48},{"d":554.1,"e":-0.55},{"d":549.7,"e":-0.69},{"d":594.1,"e":0.69},{"d":594.1,"e":0.35},{"d":584.4,"e":-0.81},{"d":598,"e":-0.91},{"d":604.2,"e":-0.42},{"d":626.1,"e":0.33},{"d":618.2,"e":0.9},{"d":624.4,"e":1.43},{"d":631.4,"e":1.68},{"d":639.3,"e":1.66},{"d":644.6,"e":0.4},{"d":665.2,"e":1.68},{"d":677.1,"e":1.6},{"d":679.3,"e":1.74},{"d":675.8,"e":0.59},{"d":684.6,"e":-0.35},{"d":632.7,"e":-0.92},{"d":640.6,"e":-1.55},{"d":54.9,"e":-0.07},{"d":73.4,"e":0.14},{"d":90.1,"e":0.32},{"d":100.6,"e":0.29},{"d":20.7,"e":-1.35},{"d":87.9,"e":-2.07},{"d":158.6,"e":-0.77},{"d":163.9,"e":-0.7},{"d":219.3,"e":-0.61},{"d":397.7,"e":-0.89},{"d":413,"e":-0.86},{"d":462.2,"e":-0.87},{"d":508.8,"e":-1.02},{"d":386.7,"e":-1.5},{"d":446.9,"e":-1.32},{"d":551,"e":-1.57},{"d":328.2,"e":-1.59},{"d":332.6,"e":-1.51},{"d":334.8,"e":-1.65},{"d":347.1,"e":-2.55},{"d":371.7,"e":-2.62},{"d":423.6,"e":-2.57},{"d":429.3,"e":-2.59},{"d":485.1,"e":-2.2},{"d":564.2,"e":-2.41},{"d":571.7,"e":-2.94},{"d":589.7,"e":-3.21},{"d":537.4,"e":-3.13},{"d":453.9,"e":-3.15},{"d":485.5,"e":-3.48},{"d":513.7,"e":-3.43},{"d":616,"e":-3.62},{"d":196.4,"e":-3.31},{"d":236,"e":-3.07},{"d":250.9,"e":-3.22},{"d":278.6,"e":-3.54},{"d":315.1,"e":-3.69},{"d":247.4,"e":-3.78},{"d":244.7,"e":-4.35},{"d":334.8,"e":-3.96},{"d":353.3,"e":-4.14},{"d":376.6,"e":-4.44},{"d":328.2,"e":-4.55},{"d":419.2,"e":-4.67},{"d":566.4,"e":-4.17},{"d":550.6,"e":-4.4},{"d":620,"e":-4.17},{"d":444.7,"e":-5.13},{"d":451.3,"e":-5.04},{"d":502.2,"e":-4.89},{"d":514.5,"e":-5.04},{"d":500,"e":-5.34},{"d":579.6,"e":-4.95},{"d":228.9,"e":-5.21},{"d":232.4,"e":-5.2},{"d":343.6,"e":-5.09},{"d":246.9,"e":-5.67},{"d":282.1,"e":-5.55},{"d":293.1,"e":-5.83},{"d":290.9,"e":-6.04},{"d":230.2,"e":-5.82},{"d":580.9,"e":-5.84},{"d":648.1,"e":-5.43},{"d":468.8,"e":-6.08},{"d":199,"e":-6.29},{"d":202.6,"e":-6.39},{"d":248.3,"e":-6.53},{"d":280.8,"e":-6.79},{"d":348.9,"e":-6.45},{"d":465.8,"e":-6.92},{"d":197.3,"e":-7.09},{"d":207,"e":-7.25},{"d":180.6,"e":-7.32},{"d":134.5,"e":-7.35},{"d":284.3,"e":-7.3},{"d":581.3,"e":-7.33},{"d":341.4,"e":-8.2},{"d":420.5,"e":-9.25},{"d":427.5,"e":-9.59},{"d":203,"e":-10.15},{"d":249.6,"e":-12.06},
{"d":358.8,"e":6.44},{"d":397.9,"e":6},{"d":504.2,"e":6.35},{"d":533,"e":6.51},{"d":538,"e":6.66},{"d":552.1,"e":6.52},{"d":565.5,"e":6.6},{"d":599.4,"e":6.59},{"d":607.9,"e":6.63},{"d":615,"e":7.29},{"d":633.8,"e":6.56},{"d":648.1,"e":6.64},{"d":637.6,"e":6.06},{"d":667,"e":6.48},{"d":676.5,"e":6.59},{"d":454.8,"e":2.67},{"d":464.7,"e":2.65},{"d":481.6,"e":2.47},{"d":538.7,"e":2.56},{"d":675.6,"e":2.78},{"d":507.1,"e":2.02},{"d":617.8,"e":2.17},{"d":635.6,"e":2.12},{"d":615.8,"e":1.86},{"d":642.4,"e":1.88},{"d":653.8,"e":1.86},{"d":569.7,"e":1.92},{"d":477.4,"e":1.81},
{"d":774.2,"e":7.38},{"d":756.4,"e":6.37},{"d":799.1,"e":6.2},{"d":874.6,"e":6.27},{"d":894.9,"e":6.28},{"d":907.6,"e":7.6},{"d":975.3,"e":7.55},{"d":974,"e":7.4},{"d":986,"e":6.44},{"d":1023.6,"e":7.4},{"d":1028.4,"e":7.33},{"d":1029.8,"e":6.44},
{"d":885.6,"e":3.69},{"d":809.2,"e":3.37},{"d":939.9,"e":3.39},{"d":935.3,"e":3.28},{"d":709.9,"e":3.27},{"d":746.6,"e":3.07},{"d":852.7,"e":3.09},{"d":853.1,"e":2.99},{"d":852.7,"e":2.94},{"d":909.1,"e":3.07},{"d":947.6,"e":2.99},{"d":984.7,"e":3.09},{"d":889.8,"e":3.01},{"d":815.3,"e":2.91},{"d":872.9,"e":2.89},{"d":1006.5,"e":2.94},{"d":1007.3,"e":2.81},{"d":998.8,"e":2.76},{"d":996.8,"e":2.71},{"d":1012.2,"e":2.71},{"d":1015.7,"e":2.7},{"d":983.8,"e":2.7},{"d":970.4,"e":2.7},{"d":913.3,"e":2.7},{"d":908.5,"e":2.66},{"d":901.2,"e":2.63},{"d":941.9,"e":2.62},{"d":846.1,"e":2.63},{"d":801,"e":2.62},{"d":794.7,"e":2.55},{"d":828.3,"e":2.56},{"d":818.2,"e":2.52},{"d":690.8,"e":2.47},{"d":966.7,"e":2.47},{"d":909.8,"e":2.47},{"d":711.2,"e":2.25},{"d":743.7,"e":2.27},{"d":748.8,"e":2.23},{"d":765,"e":2.3},{"d":829.2,"e":2.23},{"d":841.3,"e":2.14},{"d":856.8,"e":2.33},{"d":935.3,"e":2.35},{"d":1015,"e":2.32},{"d":978.1,"e":2.14},{"d":981.9,"e":2.12},{"d":1022.9,"e":2.13},{"d":928.5,"e":2.06},{"d":986.7,"e":1.96},{"d":909.8,"e":1.93},{"d":947.6,"e":1.91},{"d":977.5,"e":1.86},{"d":925.4,"e":1.82},{"d":703.9,"e":1.77},
{"d":720.7,"e":1.57},{"d":736.5,"e":1.32},{"d":779.6,"e":1.56},{"d":782.8,"e":1.51},{"d":814.6,"e":1.55},{"d":812.3,"e":1.32},{"d":835.4,"e":1.28},{"d":892.6,"e":1.52},{"d":903.5,"e":1.14},{"d":938,"e":1.29},{"d":946.6,"e":1.18},{"d":1033.7,"e":1.45},{"d":1082.7,"e":1.6},{"d":1126.3,"e":1.72},{"d":1143.5,"e":1.62},{"d":1174.4,"e":1.73},{"d":1178.9,"e":1.68},{"d":1300.9,"e":1.3},{"d":1354.9,"e":1.17},{"d":1361.7,"e":1.15},{"d":732.5,"e":0.95},{"d":739.3,"e":0.97},{"d":742,"e":0.79},{"d":735.6,"e":0.69},{"d":751.5,"e":0.71},{"d":753.8,"e":0.58},{"d":701.2,"e":0.65},{"d":729.3,"e":0.52},{"d":728.8,"e":0.44},{"d":707,"e":0.2},{"d":781,"e":0.43},{"d":794.6,"e":0.39},{"d":821.4,"e":0.95},{"d":851.8,"e":1.02},{"d":870.8,"e":1},{"d":856.3,"e":0.63},{"d":830.9,"e":0.12},{"d":982.4,"e":1.03},{"d":995.1,"e":0.94},{"d":974.3,"e":0.71},{"d":1037.3,"e":1.04},{"d":1072.3,"e":0.79},{"d":1034.6,"e":0.35},{"d":1009.7,"e":0.07},{"d":1001.5,"e":-0.26},{"d":986.1,"e":-0.46},{"d":1071.4,"e":-0.19},{"d":1093.1,"e":0.39},{"d":1137.1,"e":0.39},{"d":1121.3,"e":0.11},{"d":1119.5,"e":0.03},{"d":1098.1,"e":-0.34},{"d":1143.5,"e":-0.4},{"d":1203.8,"e":0.95},{"d":1233.3,"e":1.04},{"d":1216.5,"e":0.1},{"d":1227.9,"e":0.26},{"d":1208.8,"e":-0.77},{"d":779.6,"e":-0.17},{"d":787.8,"e":-0.49},{"d":830,"e":-0.65},{"d":751.5,"e":-0.84},{"d":735.2,"e":-1.17},{"d":793.7,"e":-1.01},{"d":867.7,"e":-1.12},{"d":931.2,"e":-1.22},{"d":947.5,"e":-1.19},{"d":1007.4,"e":-1.52},{"d":1050.9,"e":-0.81},{"d":1110.4,"e":-1.4},{"d":1146.2,"e":-1.76},{"d":781.9,"e":-1.78},{"d":858.1,"e":-2.25},{"d":913,"e":-2.12},{"d":1016.5,"e":-2.24},{"d":1220.2,"e":-2.28},{"d":1187.5,"e":-2.78},{"d":1220.2,"e":-2.9},{"d":793.7,"e":-2.66},{"d":692.1,"e":-3},{"d":750.2,"e":-3.69},{"d":1057.3,"e":-3.3},{"d":1136.3,"e":-3.31},{"d":1198.9,"e":-3.51},{"d":806.9,"e":-4},{"d":830,"e":-4.3},{"d":834.1,"e":-4.5},{"d":859.9,"e":-4.58},{"d":716.6,"e":-4.69},{"d":1027.8,"e":-3.74},{"d":1037.8,"e":-3.77},{"d":1006.5,"e":-4.53},{"d":986.1,"e":-4.76},{"d":1123.1,"e":-4.47},{"d":1150.8,"e":-5.24},{"d":945.2,"e":-5.6},{"d":1023.7,"e":-6.3},{"d":1036.9,"e":-7.36},{"d":746.5,"e":-8.95},{"d":959.8,"e":-9.16},{"d":984.7,"e":-10.4},{"d":770.6,"e":-11.74},
{"d":1106,"e":7.69},{"d":1063,"e":6.49},{"d":1132,"e":6.53},{"d":1145.8,"e":6.55},{"d":1167.6,"e":6.47},{"d":1213.7,"e":6.51},{"d":1220.7,"e":6.41},{"d":1216,"e":6.18},{"d":1240.8,"e":6.56},{"d":1249.5,"e":6.52},{"d":1242.9,"e":6.16},{"d":1260,"e":6.04},{"d":1195,"e":6.05},{"d":1228.2,"e":7.33},{"d":1259.8,"e":7.33},
{"d":1223,"e":3.49},{"d":1225.8,"e":3.04},{"d":1220.2,"e":2.95},{"d":1315.5,"e":2.93},{"d":1053.2,"e":3.24},{"d":1102.5,"e":2.8},{"d":1101.8,"e":2.69},{"d":1046.1,"e":2.42},{"d":1041,"e":2.31},{"d":1074.2,"e":2.39},{"d":1240.8,"e":2.48},{"d":1376.3,"e":2.51},{"d":1095.5,"e":2.33},{"d":1098.3,"e":2.34},{"d":1120.1,"e":2.26},{"d":1133.6,"e":2.23},{"d":1207.4,"e":2.35},{"d":1209.5,"e":2.23},{"d":1213,"e":2.05},{"d":1217.2,"e":2.1},{"d":1079.1,"e":2.03},{"d":1135,"e":2},{"d":1144.9,"e":1.97},{"d":1122.9,"e":1.82},{"d":1129.9,"e":1.87},{"d":1126.6,"e":1.75},{"d":1260,"e":1.86},{"d":1291.4,"e":1.91}]
},
"layer":[
{"data":{"name":"raw"},
"mark":{"type":"point","filled":true,"size":3686,"opacity":1},
"encoding":{
"x":{"field":"d","type":"quantitative","scale":{"domain":[0,1400],"nice":false,"zero":false},
"axis":{"title":"Along-track distance(m)","values":[0,200,400,600,800,1000,1200,1400],"format":"d","labelPadding":39,"titlePadding":13,"labelFlush":false}},
"y":{"field":"e","type":"quantitative","scale":{"domain":[-15,15],"nice":false,"zero":false},
"axis":{"title":"Elevation(m)","values":[-15,-10,-5,0,5,10,15],"labelExpr":"toString(datum.value)","labelPadding":18,"titlePadding":18}},
"color":{"datum":"ATL03 raw photons","type":"nominal",
"scale":{"domain":["ATL03 raw photons","DBSCAN results","ATL03 photons with confidence = 4"],"range":["#ff0000","#0000ff","#00ff00"]},
"legend":{"title":null,"orient":"none","legendX":2369,"legendY":19,"strokeColor":"#262626","fillColor":"white","padding":7,"labelFont":"Liberation Serif","labelFontSize":53,"labelColor":"#000000","labelLimit":900,"symbolSize":784,"symbolStrokeWidth":0,"rowPadding":6,"symbolOffset":10,"labelOffset":16}},
"shape":{"datum":"ATL03 raw photons","type":"nominal",
"scale":{"domain":["ATL03 raw photons","DBSCAN results","ATL03 photons with confidence = 4"],"range":["M0,-0.14A0.14,0.14 0 1,1 0,0.14A0.14,0.14 0 1,1 0,-0.14Z","M0,-0.5A0.5,0.5 0 1,1 0,0.5A0.5,0.5 0 1,1 0,-0.5ZM0,-0.39A0.39,0.39 0 1,0 0,0.39A0.39,0.39 0 1,0 0,-0.39Z","M0,-0.14A0.14,0.14 0 1,1 0,0.14A0.14,0.14 0 1,1 0,-0.14Z"]},
"legend":{"title":null,"orient":"none","legendX":2369,"legendY":19,"strokeColor":"#262626","fillColor":"white","padding":7,"labelFont":"Liberation Serif","labelFontSize":53,"labelColor":"#000000","labelLimit":900,"symbolSize":784,"symbolStrokeWidth":0,"rowPadding":6,"symbolOffset":10,"labelOffset":16}}}},
{"data":{"name":"signal"},
"mark":{"type":"point","filled":true,"size":784,"opacity":1},
"encoding":{
"x":{"field":"d","type":"quantitative","axis":null},
"y":{"field":"e","type":"quantitative","axis":null},
"color":{"datum":"DBSCAN results","type":"nominal"},
"shape":{"datum":"DBSCAN results","type":"nominal"}}},
{"data":{"name":"signal"},
"mark":{"type":"point","filled":true,"size":3686,"opacity":1},
"encoding":{
"x":{"field":"d","type":"quantitative","axis":null},
"y":{"field":"e","type":"quantitative","axis":null},
"color":{"datum":"ATL03 photons with confidence = 4","type":"nominal"},
"shape":{"datum":"ATL03 photons with confidence = 4","type":"nominal"}}},
{"data":{"name":"noise"},
"mark":{"type":"point","filled":true,"size":3686,"opacity":1},
"encoding":{
"x":{"field":"d","type":"quantitative","axis":{"orient":"top","title":null,"labels":false,"values":[0,200,400,600,800,1000,1200,1400]}},
"y":{"field":"e","type":"quantitative","axis":{"orient":"right","title":null,"labels":false,"values":[-15,-10,-5,0,5,10,15]}},
"color":{"datum":"ATL03 photons with confidence = 4","type":"nominal"},
"shape":{"datum":"ATL03 photons with confidence = 4","type":"nominal"}}}
],
"resolve":{"axis":{"x":"independent","y":"independent"}}}
